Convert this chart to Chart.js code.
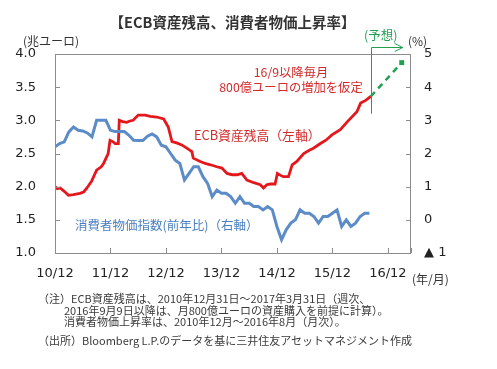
<!DOCTYPE html>
<html><head><meta charset="utf-8">
<script src="https://cdn.jsdelivr.net/npm/chart.js@4.4.1/dist/chart.umd.min.js"></script>
<style>
html,body{margin:0;padding:0;background:#fff;}
#wrap{position:relative;width:497px;height:369px;overflow:hidden;}
canvas{position:absolute;left:0;top:0;}
.t{position:absolute;white-space:nowrap;font-family:"Noto Sans CJK JP","Noto Sans",sans-serif;color:#333;line-height:14px;}
</style></head>
<body>
<div id="wrap">
<canvas id="c" width="497" height="369"></canvas>
<div class="t" style="left:0;width:465px;text-align:center;top:13px;font-size:14.5px;font-weight:bold;line-height:18px;">【ECB資産残高、消費者物価上昇率】</div>
<div class="t" style="left:23px;top:34px;font-size:12px;">(兆ユーロ)</div>
<div class="t" style="left:408px;top:34px;font-size:12px;">(%)</div>
<div class="t" style="left:364px;top:28px;font-size:12.5px;color:#22a050;">(予想)</div>
<div class="t" style="left:412px;top:272px;font-size:12px;">(年/月)</div>
<div class="t" style="left:191px;width:200px;text-align:center;top:65px;font-size:12.3px;color:#d42a2a;">16/9以降毎月</div>
<div class="t" style="left:191px;width:200px;text-align:center;top:80px;font-size:12.3px;color:#d42a2a;">800億ユーロの増加を仮定</div>
<div class="t" style="left:194px;top:128px;font-size:12.8px;color:#d42a2a;">ECB資産残高（左軸）</div>
<div class="t" style="left:75px;top:218px;font-size:12.5px;color:#4a7fc0;">消費者物価指数(前年比)（右軸）</div>
<div class="t" style="left:38px;top:291px;font-size:11px;color:#3a3a3a;">（注）ECB資産残高は、2010年12月31日～2017年3月31日（週次、</div>
<div class="t" style="left:64px;top:303px;font-size:11px;color:#3a3a3a;">2016年9月9日以降は、月800億ユーロの資産購入を前提に計算）。</div>
<div class="t" style="left:64px;top:314px;font-size:11px;color:#3a3a3a;">消費者物価上昇率は、2010年12月～2016年8月（月次）。</div>
<div class="t" style="left:38px;top:333px;font-size:11px;color:#3a3a3a;">（出所）Bloomberg L.P.のデータを基に三井住友アセットマネジメント作成</div>
</div>
<script>
// x values are months since Dec 2010
const xTickLabels = ['10/12','11/12','12/12','13/12','14/12','15/12','16/12'];

const ecbMonths = [0,0.5,1.1,2.0,2.9,4.0,5.4,6.2,6.9,7.9,9.0,10.0,10.5,11.5,11.9,12.5,13.0,13.7,13.9,14.6,15.5,16.2,16.9,18.0,19.5,20.6,22.0,23.5,24.5,25.3,26.3,27.4,28.5,29.6,29.9,31.4,32.5,33.6,35.0,36.1,37.2,38.3,39.4,40.4,41.5,43.0,44.4,45.1,45.8,46.6,47.6,48.1,48.8,49.4,50.5,51.3,52.3,53.8,55.0,55.9,57.4,58.6,59.9,61.7,63.5,65.3,66.1,67.2,68.3];
const ecbValues = [2.00,1.97,1.98,1.93,1.87,1.88,1.90,1.92,1.98,2.08,2.25,2.30,2.35,2.50,2.70,2.68,2.65,2.65,3.00,2.98,2.97,2.99,3.00,3.08,3.08,3.06,3.05,3.02,2.90,2.68,2.66,2.63,2.58,2.53,2.43,2.38,2.35,2.33,2.30,2.28,2.20,2.18,2.18,2.20,2.10,2.06,2.03,1.98,2.03,2.04,2.04,2.20,2.17,2.15,2.15,2.33,2.38,2.50,2.55,2.58,2.65,2.70,2.78,2.86,3.00,3.13,3.26,3.30,3.36];

const forecastMonths = [68.3, 75];
const forecastValues = [3.36, 3.87];

const cpiValues = [2.2,2.3,2.35,2.65,2.8,2.7,2.68,2.62,2.5,3.0,3.0,3.0,2.7,2.66,2.66,2.66,2.55,2.4,2.39,2.39,2.52,2.59,2.5,2.25,2.2,2.0,1.8,1.7,1.2,1.4,1.6,1.6,1.3,1.1,0.7,0.9,0.8,0.8,0.7,0.5,0.7,0.5,0.5,0.4,0.4,0.3,0.4,0.3,-0.2,-0.6,-0.3,-0.1,0.0,0.3,0.2,0.2,0.1,-0.1,0.1,0.1,0.2,0.3,-0.2,0.0,-0.2,-0.1,0.1,0.2,0.2];
const cpiMonths = cpiValues.map((v,i)=>i);

const RED='#e3171c', BLUE='#5b8cc8', GREEN='#22a050', AXIS='#8c8c8c';

const frame = {
  id:'frame',
  afterDatasetsDraw(chart){
    const {ctx, chartArea:a, scales} = chart;
    ctx.save();
    ctx.strokeStyle = AXIS; ctx.lineWidth = 1;
    ctx.strokeRect(Math.round(a.left)+0.5, Math.round(a.top)+0.5, Math.round(a.right-a.left)-1, Math.round(a.bottom-a.top));
    ctx.beginPath();
    scales.y.ticks.forEach(t=>{const p=Math.round(scales.y.getPixelForValue(t.value))+0.5; ctx.moveTo(a.left,p); ctx.lineTo(a.left+5,p);});
    scales.y2.ticks.forEach(t=>{const p=Math.round(scales.y2.getPixelForValue(t.value))+0.5; ctx.moveTo(a.right-5,p); ctx.lineTo(a.right,p);});
    scales.x.ticks.forEach(t=>{const p=Math.round(scales.x.getPixelForValue(t.value))+0.5; ctx.moveTo(p,a.bottom); ctx.lineTo(p,a.bottom-5);});
    ctx.stroke();
    // forecast marker: vertical line and arrow
    const xs = Math.round(scales.x.getPixelForValue(forecastMonths[0]))+0.5;
    const xe = scales.x.getPixelForValue(forecastMonths[1]);
    const yTop = a.top - 6.5;
    const yBot = scales.y.getPixelForValue(3.1);
    ctx.strokeStyle = GREEN; ctx.lineWidth = 1;
    ctx.beginPath();
    ctx.moveTo(xs, yBot); ctx.lineTo(xs, yTop); ctx.lineTo(xe+1, yTop);
    ctx.moveTo(xe-7, yTop-4); ctx.lineTo(xe+1, yTop); ctx.lineTo(xe-7, yTop+4);
    ctx.stroke();
    ctx.restore();
  }
};

new Chart(document.getElementById('c'), {
  type:'line',
  data:{datasets:[
    {data: forecastMonths.map((m,i)=>({x:m,y:forecastValues[i]})), yAxisID:'y', borderColor:GREEN, borderWidth:2.5, borderDash:[6,5],
     pointRadius:[0,3.5], pointStyle:'rect', pointBackgroundColor:GREEN, pointBorderWidth:0},
    {data: cpiMonths.map((m,i)=>({x:m,y:cpiValues[i]})), yAxisID:'y2', borderColor:BLUE, borderWidth:3, pointRadius:0, tension:0},
    {data: ecbMonths.map((m,i)=>({x:m,y:ecbValues[i]})), yAxisID:'y', borderColor:RED, borderWidth:2.8, pointRadius:0, tension:0}
  ]},
  options:{
    responsive:false, animation:false, devicePixelRatio:1,
    layout:{padding:{top:54,bottom:0,left:0,right:0}},
    plugins:{legend:{display:false}, tooltip:{enabled:false}},
    scales:{
      x:{type:'linear', min:0, max:77,
        afterFit(s){s.height=116;},
        grid:{display:false, drawTicks:false}, border:{display:false},
        ticks:{stepSize:12, padding:13, maxRotation:0, autoSkip:false, color:'#222', font:{family:'DejaVu Sans', size:13},
          callback:(v)=> (v%12===0 && xTickLabels[v/12]!==undefined) ? xTickLabels[v/12] : ''}},
      y:{position:'left', min:1, max:4,
        afterFit(s){s.width=55;},
        grid:{display:false, drawTicks:false}, border:{display:false},
        ticks:{stepSize:0.5, padding:19, color:'#222', font:{family:'DejaVu Sans', size:13}, callback:(v)=>v.toFixed(1)}},
      y2:{position:'right', min:-1, max:5,
        afterFit(s){s.width=86;},
        grid:{display:false, drawTicks:false}, border:{display:false},
        ticks:{stepSize:1, padding:13, color:'#222', font:{family:'DejaVu Sans', size:13}, callback:(v)=> v===-1 ? '▲ 1' : String(v)}}
    }
  },
  plugins:[frame]
});
</script>
</body></html>
